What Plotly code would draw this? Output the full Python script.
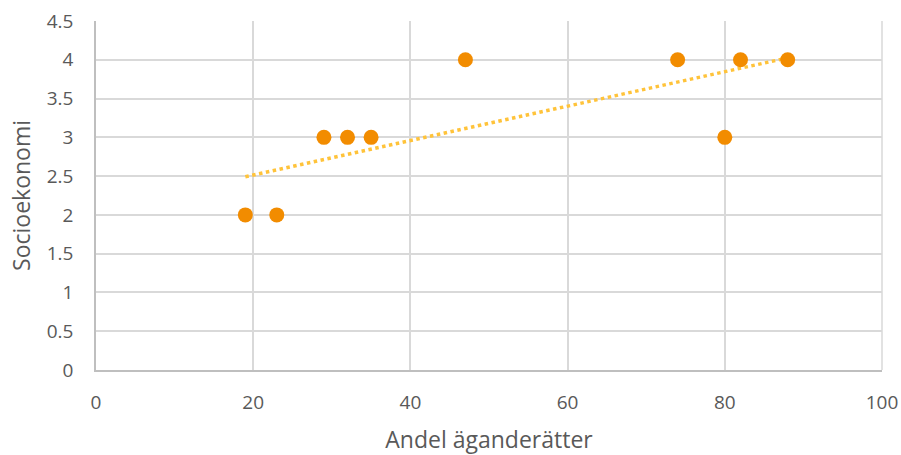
import numpy as np
import plotly.graph_objects as go

andel = [19, 23, 29, 32, 35, 47, 74, 80, 82, 88]
socio = [2, 2, 3, 3, 3, 4, 4, 3, 4, 4]

# linear trendline
k, m = np.polyfit(andel, socio, 1)
trend_x = [min(andel), max(andel)]
trend_y = [k * x + m for x in trend_x]

fig = go.Figure()
fig.add_trace(go.Scatter(x=trend_x, y=trend_y, mode="lines",
                         line=dict(color="#FFC33A", width=3.5, dash="dot"),
                         hoverinfo="skip"))
fig.add_trace(go.Scatter(x=andel, y=socio, mode="markers",
                         marker=dict(color="#F28C00", size=15)))

fig.update_layout(
    width=901, height=455,
    margin=dict(l=96, r=19, t=21, b=85),
    paper_bgcolor="white", plot_bgcolor="white",
    showlegend=False,
    font=dict(family="Open Sans", color="#595959", size=19),
)
fig.update_xaxes(range=[0, 100], dtick=20, showgrid=True, gridcolor="#D9D9D9", gridwidth=1.5,
                 zeroline=False, showline=True, linecolor="#BFBFBF", linewidth=1.5,
                 ticks="", ticklabelstandoff=14, tickfont=dict(size=19), automargin=False,
                 title=dict(text="Andel äganderätter", font=dict(size=23), standoff=18))
fig.update_yaxes(range=[0, 4.5], dtick=0.5, showgrid=True, gridcolor="#D9D9D9", gridwidth=1.5,
                 zeroline=False, showline=True, linecolor="#BFBFBF", linewidth=1.5,
                 ticks="", ticklabelstandoff=17, tickfont=dict(size=19), automargin=False,
                 title=dict(text="Socioekonomi", font=dict(size=23), standoff=10))
# right border of plot area
fig.add_shape(type="line", xref="paper", yref="paper", x0=1, x1=1, y0=0, y1=1,
              line=dict(color="#D9D9D9", width=1.5))

fig.write_html("out.html", config={"displayModeBar": False},
               post_script="document.body.style.margin='0';")
